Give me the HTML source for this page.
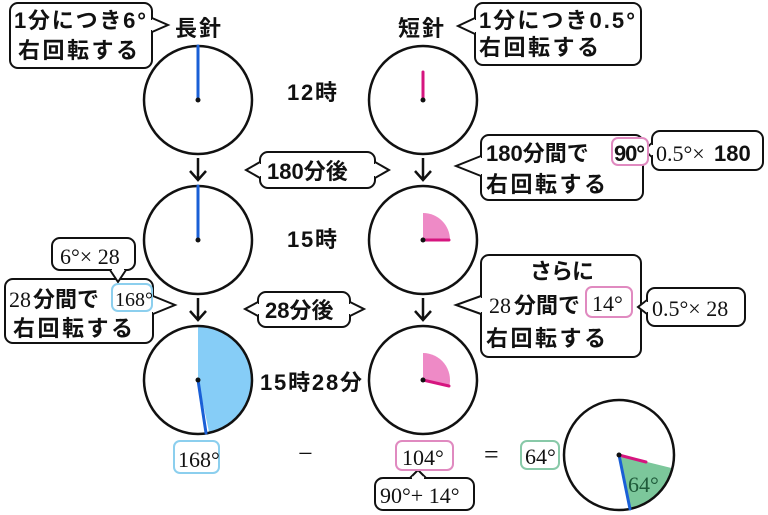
<!DOCTYPE html>
<html><head><meta charset="utf-8"><style>
html,body{margin:0;padding:0;background:#fff;}
svg{display:block;}
text{font-family:"Liberation Sans","Noto Sans CJK JP",sans-serif;font-weight:bold;fill:#111;}
.s{font-family:"Liberation Serif","Noto Serif CJK SC",serif;font-weight:normal;}
</style></head><body>
<svg width="768" height="515" viewBox="0 0 768 515" xmlns="http://www.w3.org/2000/svg">
<g stroke="#111" stroke-width="2.5" fill="none">
<circle cx="198" cy="100" r="54" fill="#fff"/>
<circle cx="198" cy="240" r="54" fill="#fff"/>
<path d="M198,380 L198,326 A54,54 0 0 1 209.2,432.8 Z" fill="#86cdf7" stroke="none"/>
<circle cx="198" cy="380" r="54"/>
<circle cx="423" cy="100" r="54" fill="#fff"/>
<path d="M423,240 L423,213 A27,27 0 0 1 450,240 Z" fill="#ee8ac6" stroke="none"/>
<circle cx="423" cy="240" r="54"/>
<path d="M423,380 L423,353 A27,27 0 0 1 449.2,386.5 Z" fill="#ee8ac6" stroke="none"/>
<circle cx="423" cy="380" r="54"/>
<path d="M619,455 L672.4,468.3 A55,55 0 0 1 630.4,508.8 Z" fill="#7cc79b" stroke="none"/>
<circle cx="619" cy="455" r="55"/>
</g>
<g stroke-width="3" stroke-linecap="round">
<line x1="198" y1="46" x2="198" y2="100" stroke="#1a5fd6"/>
<line x1="198" y1="186" x2="198" y2="240" stroke="#1a5fd6"/>
<line x1="198" y1="380" x2="206" y2="433" stroke="#1a5fd6"/>
<line x1="423" y1="72" x2="423" y2="100" stroke="#d6157f"/>
<line x1="423" y1="240" x2="449" y2="240" stroke="#d6157f"/>
<line x1="423" y1="380" x2="449" y2="386" stroke="#d6157f"/>
<line x1="619" y1="455" x2="630" y2="509" stroke="#1a5fd6"/>
<line x1="619" y1="455" x2="646" y2="462" stroke="#d6157f"/>
</g>
<g fill="#111"><circle cx="198" cy="100" r="2.5"/><circle cx="198" cy="240" r="2.5"/><circle cx="198" cy="380" r="2.5"/><circle cx="423" cy="100" r="2.5"/><circle cx="423" cy="240" r="2.5"/><circle cx="423" cy="380" r="2.5"/><circle cx="619" cy="455" r="2.5"/></g>
<g stroke="#111" stroke-width="2.5" fill="none">
<path d="M198,158 V180 M190,171 L198,180 L206,171"/>
<path d="M198,298 V320 M190,311 L198,320 L206,311"/>
<path d="M423,158 V180 M415,171 L423,180 L431,171"/>
<path d="M423,298 V320 M415,311 L423,320 L431,311"/>
</g>
<g stroke="#111" stroke-width="2" fill="#fff">
<rect x="10" y="3" width="142" height="65" rx="8"/>
<rect x="475" y="3" width="166" height="62" rx="8"/>
<rect x="260" y="152" width="115" height="36" rx="8"/>
<rect x="481" y="135" width="162" height="65" rx="8"/>
<rect x="652" y="131" width="111" height="39" rx="8"/>
<rect x="52" y="238" width="83" height="32" rx="8"/>
<rect x="5" y="279" width="148" height="64" rx="8"/>
<rect x="258" y="292" width="92" height="35" rx="8"/>
<rect x="481" y="255" width="160" height="102" rx="8"/>
<rect x="647" y="288" width="98" height="38" rx="8"/>
<rect x="375" y="478" width="99" height="32" rx="8"/>
</g>
<g stroke="#111" stroke-width="2" fill="#fff" stroke-linejoin="miter">
<polyline points="152,18 168,25 152,32"/>
<polyline points="475,18 458,26 475,34"/>
<polyline points="260,162 246,170 260,178"/>
<polyline points="375,162 389,170 375,178"/>
<polyline points="481,156 456,166 481,176"/>
<polyline points="652,143 644,150 652,157"/>
<polyline points="153,296 175,305 153,314"/>
<polyline points="258,302 245,309 258,316"/>
<polyline points="350,302 364,309 350,316"/>
<polyline points="481,296 456,305 481,314"/>
<polyline points="647,300 638,307 647,314"/>
<polyline points="110,270 118,282 126,270"/>
<polyline points="410,478 418,470 426,478"/>
</g>
<g stroke="#fff" stroke-width="3">
<line x1="152" y1="20" x2="152" y2="30"/><line x1="475" y1="20" x2="475" y2="32"/>
<line x1="260" y1="164" x2="260" y2="176"/><line x1="375" y1="164" x2="375" y2="176"/>
<line x1="481" y1="158" x2="481" y2="174"/><line x1="652" y1="145" x2="652" y2="155"/>
<line x1="153" y1="298" x2="153" y2="312"/><line x1="258" y1="304" x2="258" y2="314"/>
<line x1="350" y1="304" x2="350" y2="314"/><line x1="481" y1="298" x2="481" y2="312"/>
<line x1="647" y1="302" x2="647" y2="312"/><line x1="112" y1="270" x2="124" y2="270"/>
<line x1="412" y1="478" x2="424" y2="478"/>
</g>
<g stroke-width="2" fill="#fff">
<rect x="612" y="138" width="36" height="27" rx="6" stroke="#e08ac0"/>
<rect x="112" y="284" width="40" height="27" rx="6" stroke="#8ccfee"/>
<rect x="586" y="287" width="46" height="30" rx="6" stroke="#e08ac0"/>
<rect x="174" y="441" width="45" height="32" rx="6" stroke="#8ccfee"/>
<rect x="396" y="441" width="57" height="29" rx="6" stroke="#e08ac0"/>
<rect x="521" y="441" width="38" height="28" rx="6" stroke="#88c9a8"/>
</g>
<g font-size="22">
<text x="14" y="28" textLength="132">1分につき6°</text>
<text x="18" y="58" textLength="120">右回転する</text>
<text x="175" y="36" textLength="46">長針</text>
<text x="398" y="36" textLength="46">短針</text>
<text x="479" y="28" textLength="156">1分につき0.5°</text>
<text x="479" y="55" textLength="120">右回転する</text>
<text x="287" y="100" textLength="50">12時</text>
<text x="287" y="247" textLength="50">15時</text>
<text x="260" y="390" textLength="102">15時28分</text>
<text x="267" y="179">180分後</text>
<text x="486" y="161">180分間で</text>
<text x="614" y="161" textLength="31">90°</text>
<text x="486" y="192" textLength="120">右回転する</text>
<text x="265" y="318">28分後</text>
<text x="13" y="336" textLength="120">右回転する</text>
<text x="530" y="279" textLength="64">さらに</text>
<text x="514" y="313">分間で</text>
<text x="486" y="346" textLength="120">右回転する</text>
<text x="33" y="307">分間で</text>
</g>
<g font-size="22">
<text class="s" x="656" y="161">0.5°×</text>
<text x="714" y="161">180</text>
<text class="s" x="60" y="264">6°× 28</text>
<text class="s" x="9" y="307">28</text>
<text class="s" x="115" y="306" font-size="20">168°</text>
<text class="s" x="489" y="313">28</text>
<text class="s" x="592" y="311">14°</text>
<text class="s" x="652" y="316">0.5°× 28</text>
<text class="s" x="178" y="467">168°</text>
<text class="s" x="402" y="465">104°</text>
<text class="s" x="380" y="503">90°+ 14°</text>
<text class="s" x="525" y="464">64°</text>
<text class="s" x="628" y="492" style="fill:#1f5a3a">64°</text>
<text class="s" x="298" y="462" font-size="26">−</text>
<text class="s" x="484" y="463" font-size="26">=</text>
</g>
</svg>
</body></html>
